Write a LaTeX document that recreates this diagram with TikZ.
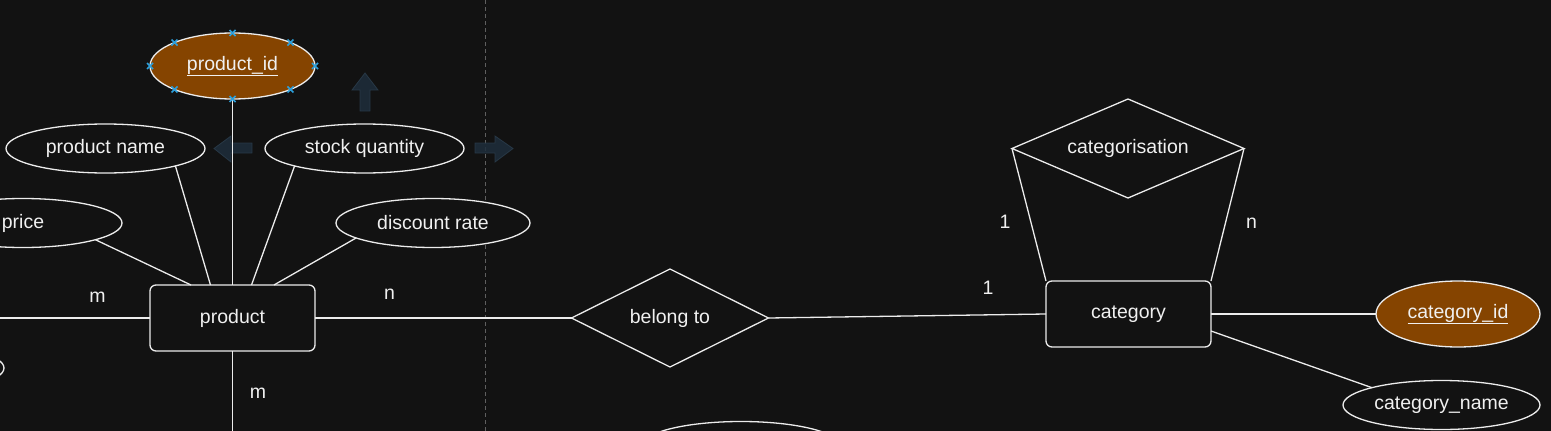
\documentclass[tikz,border=0pt]{standalone}
\usepackage{fontspec}
\setmainfont{Liberation Sans}
\usetikzlibrary{shapes.geometric}
\definecolor{bg}{RGB}{18,18,18}
\definecolor{ln}{RGB}{236,236,236}
\definecolor{tx}{RGB}{240,240,240}
\definecolor{brownfill}{RGB}{133,68,0}
\definecolor{handle}{RGB}{45,160,220}
\definecolor{hint}{RGB}{30,46,60}
\definecolor{hintedge}{RGB}{42,60,75}
\definecolor{guide}{RGB}{95,95,95}
\begin{document}
\begin{tikzpicture}[x=1pt,y=-1pt,
  every node/.style={text=tx,font=\fontsize{19.5}{23}\selectfont,inner sep=0pt,outer sep=0pt},
  attr/.style={ellipse,draw=ln,line width=1.3pt,fill=bg,minimum width=199pt,minimum height=49pt},
  keyattr/.style={ellipse,draw=ln,line width=1.3pt,fill=brownfill,minimum width=165pt,minimum height=66pt},
  entity/.style={rectangle,rounded corners=6pt,draw=ln,line width=1.3pt,fill=bg,minimum width=165pt,minimum height=66pt},
  rel/.style={diamond,draw=ln,line width=1.3pt,fill=bg},
  link/.style={draw=ln,line width=1.3pt},
  hintarrow/.style={fill=hint,draw=hintedge,line width=0.8pt,opacity=0.85},
  handlemark/.style={draw=handle,line width=1.6pt},
  guideline/.style={draw=guide,line width=1pt,dash pattern=on 4pt off 3pt}
]
\fill[bg] (0,0) rectangle (1551,431);
\useasboundingbox (0,0) rectangle (1551,431);
\clip (0,0) rectangle (1551,431);

% page guide
\draw[guideline] (485,0) -- (485,431);

% hover hint arrows
\path[hintarrow] (360,111) -- (360,90) -- (352,90) -- (365,73) -- (378,90) -- (370,90) -- (370,111) -- cycle;
\path[hintarrow] (252,143) -- (231,143) -- (231,136) -- (214,148.5) -- (231,162) -- (231,153) -- (252,153) -- cycle;
\path[hintarrow] (475,143) -- (495,143) -- (495,136) -- (513,148.5) -- (495,162) -- (495,153) -- (475,153) -- cycle;

% nodes
\node[keyattr] (pid) at (232.5,66) {\underline{product\_id}};
\node[attr] (pname) at (105.5,148.5) {product name};
\node[attr] (stock) at (364.5,148.5) {stock quantity};
\node[attr,minimum width=198pt] (price) at (23,223) {price};
\node[attr,minimum width=194pt] (disc) at (433,223) {discount rate};
\node[attr] (leftattr) at (-95.5,368) {};
\node[attr] (bottomattr) at (741,446) {};
\node[entity] (product) at (232.5,318) {product};
\node[rel,aspect=2,minimum width=197pt,minimum height=98pt] (belong) at (670,318) {belong to};
\node[entity] (category) at (1128.5,314) {category};
\node[rel,aspect=2.34,minimum width=232pt,minimum height=99pt] (catrel) at (1128,148.5) {categorisation};
\node[keyattr,minimum width=164pt] (catid) at (1458,314) {\underline{category\_id}};
\node[attr,minimum width=197pt] (catname) at (1441.5,405) {category\_name};

\coordinate (leftend) at (0,318);
\coordinate (bottomend) at (232.5,431);

% connectors
\draw[link] (pid.south) -- (product.north);
\draw[link] (pname.-14) -- ([xshift=-22pt]product.north);
\draw[link] (stock.194) -- ([xshift=19pt]product.north);
\draw[link] (price.-13) -- ([xshift=-41.5pt]product.north);
\draw[link] (disc.191) -- ([xshift=41.5pt]product.north);
\draw[link] (leftend) -- (product.west);
\draw[link] (product.east) -- (belong.west);
\draw[link] (product.south) -- (bottomend);
\draw[link] (belong.east) -- (category.west);
\draw[link] (catrel.west) -- (category.north west);
\draw[link] (catrel.east) -- (category.north east);
\draw[link] (category.east) -- (catid.west);
\draw[link] ([yshift=-17pt]category.east) -- (catname.166);

% cardinality labels
\node (c1) at (97.5,297) {m};
\node (c2) at (389.5,294) {n};
\node (c3) at (258,393) {m};
\node (c4) at (1005,222) {1};
\node (c5) at (1251.5,223) {n};
\node (c6) at (988,288) {1};

% selection handles
\foreach \a in {90,22,0,-22,-90,-158,180,158}{
  \draw[handlemark] (pid.\a) ++(-3,-3) -- ++(6,6) ++(0,-6) -- ++(-6,6);
}
\end{tikzpicture}
\end{document}
